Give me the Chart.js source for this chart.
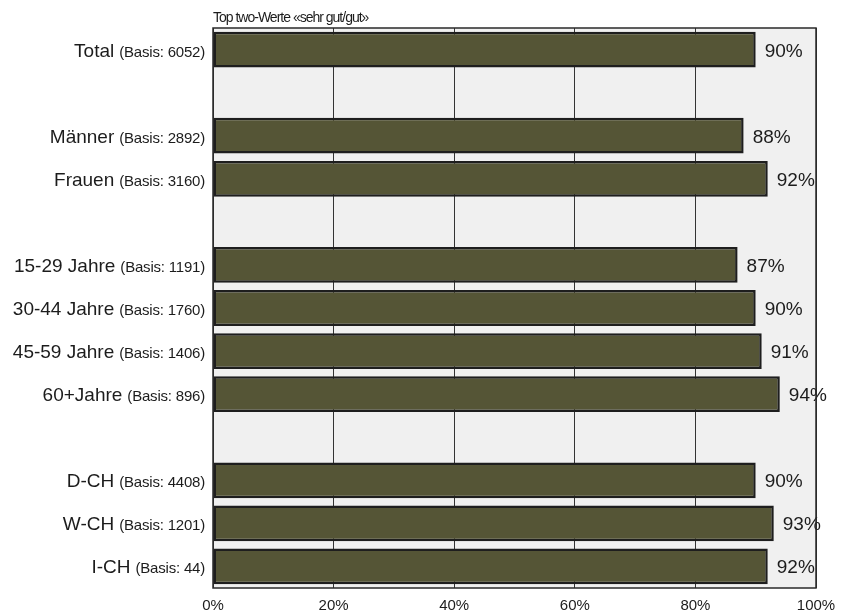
<!DOCTYPE html>
<html>
<head>
<meta charset="utf-8">
<script src="https://cdn.jsdelivr.net/npm/chart.js@4"></script>
<style>
  html, body { margin: 0; padding: 0; background: #fff; }
  #wrap { width: 845px; height: 614px; }
</style>
</head>
<body>
<div id="wrap"><canvas id="chart1"></canvas></div>
<script>
// rows (empty strings are the spacer rows)
const groups = ['Total', '', 'Männer', 'Frauen', '', '15-29 Jahre', '30-44 Jahre', '45-59 Jahre', '60+Jahre', '', 'D-CH', 'W-CH', 'I-CH']
const basis = [6052, null, 2892, 3160, null, 1191, 1760, 1406, 896, null, 4408, 1201, 44]
const topTwo = [90, null, 88, 92, null, 87, 90, 91, 94, null, 90, 93, 92]
const xTicks = [0, 20, 40, 60, 80, 100]
const title = 'Top two-Werte «sehr gut/gut»'

const FONT = '"Liberation Sans", Arial, Helvetica, sans-serif'
const ink = '#1c1c1c'

// gray plot background + frame
const frame = {
    id: 'frame',
    beforeDraw(chart) {
        const a = chart.chartArea
        const c = chart.ctx
        c.save()
        c.fillStyle = '#f0f0f0'
        c.fillRect(a.left, a.top, a.right - a.left, a.bottom - a.top)
        c.restore()
    },
    afterDraw(chart) {
        const a = chart.chartArea
        const c = chart.ctx
        c.save()
        c.strokeStyle = '#2a2a2a'
        c.lineWidth = 1.5
        c.strokeRect(a.left, a.top, a.right - a.left, a.bottom - a.top)

        // title above the plot
        c.fillStyle = ink
        c.font = '14px ' + FONT
        c.letterSpacing = '-1px'
        c.textAlign = 'left'
        c.textBaseline = 'alphabetic'
        c.fillText(title, a.left, a.top - 6)
        c.restore()
    }
}

// row labels on the left and percentages at bar ends
const labels = {
    id: 'labels',
    afterDatasetsDraw(chart) {
        const c = chart.ctx
        const y = chart.scales.y
        const x = chart.scales.x
        const a = chart.chartArea
        c.save()
        c.fillStyle = ink
        c.textBaseline = 'alphabetic'
        groups.forEach((g, i) => {
            if (!g) return
            const py = y.getPixelForValue(i)
            const right = a.left - 8
            const small = '(Basis: ' + basis[i] + ')'
            c.font = '15px ' + FONT
            c.letterSpacing = '-0.2px'
            c.textAlign = 'right'
            c.fillText(small, right, py + 7)
            const w = c.measureText(small).width
            c.font = '19px ' + FONT
            c.letterSpacing = '0px'
            c.fillText(g, right - w - 5, py + 7)

            const v = topTwo[i]
            c.font = '19px ' + FONT
            c.letterSpacing = '0px'
            c.textAlign = 'left'
            c.fillText(v + '%', x.getPixelForValue(v) + 9, py + 7)
        })
        c.restore()
    }
}

new Chart(document.getElementById('chart1'), {
    type: 'bar',
    data: {
        labels: groups,
        datasets: [{
            data: topTwo,
            backgroundColor: '#555536',
            borderColor: '#1e1e1e',
            borderWidth: 2.5,
            borderSkipped: false,
            barPercentage: 0.83,
            categoryPercentage: 1
        }]
    },
    options: {
        indexAxis: 'y',
        responsive: true,
        maintainAspectRatio: false,
        animation: false,
        layout: {
            padding: { left: 213, right: 29, top: 28, bottom: 0 }
        },
        plugins: {
            legend: { display: false },
            tooltip: { enabled: false }
        },
        scales: {
            x: {
                min: 0,
                max: 100,
                afterBuildTicks(scale) {
                    scale.ticks = xTicks.map(v => ({ value: v }))
                },
                afterFit(scale) {
                    scale.height = 26
                },
                grid: {
                    color: '#333333',
                    lineWidth: 1,
                    drawTicks: false
                },
                border: { display: false },
                ticks: {
                    padding: 9,
                    color: ink,
                    font: { family: FONT, size: 15 },
                    maxRotation: 0,
                    callback: v => v + '%'
                }
            },
            y: {
                display: false
            }
        }
    },
    plugins: [frame, labels]
})
</script>
</body>
</html>
